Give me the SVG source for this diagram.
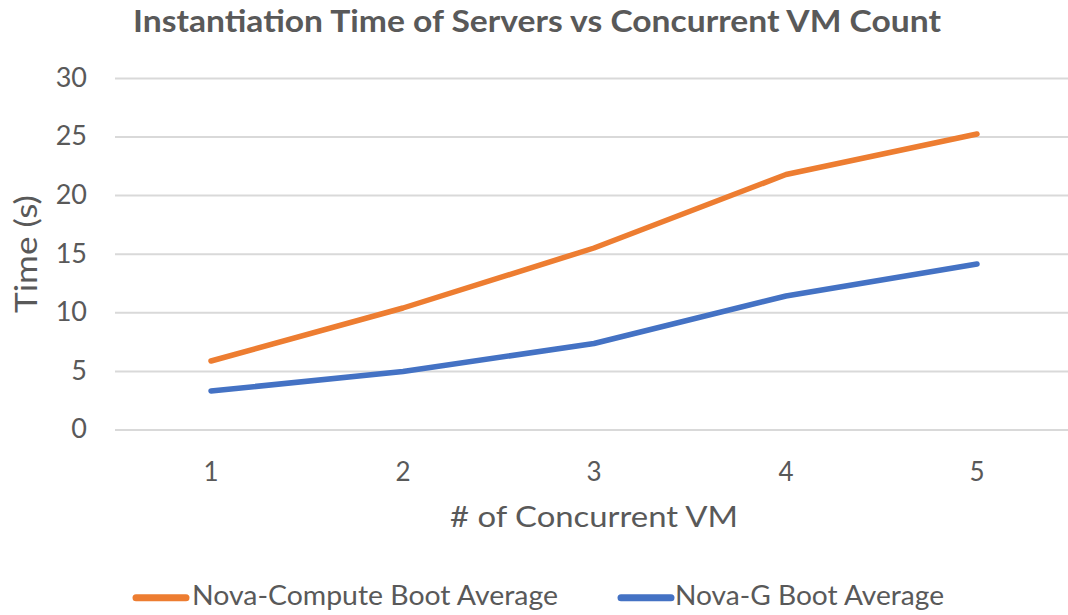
<svg xmlns="http://www.w3.org/2000/svg" width="1068" height="615" viewBox="0 0 1068 615">
<style>
.t{font-family:Lato,"Liberation Sans",sans-serif;fill:#595959}
.grid{stroke:#D9D9D9;stroke-width:2}
.ser{fill:none;stroke-width:5.5;stroke-linecap:round;stroke-linejoin:round}
</style>
<rect width="1068" height="615" fill="#FFFFFF"/>
<g id="title"><text class="t" x="133" y="32" font-size="30" font-weight="bold" textLength="808" lengthAdjust="spacingAndGlyphs">Instantiation Time of Servers vs Concurrent VM Count</text></g>
<g id="gridlines">
<line class="grid" x1="115" y1="78.4" x2="1068" y2="78.4"/>
<line class="grid" x1="115" y1="137" x2="1068" y2="137"/>
<line class="grid" x1="115" y1="195.6" x2="1068" y2="195.6"/>
<line class="grid" x1="115" y1="254.2" x2="1068" y2="254.2"/>
<line class="grid" x1="115" y1="312.8" x2="1068" y2="312.8"/>
<line class="grid" x1="115" y1="371.4" x2="1068" y2="371.4"/>
<line class="grid" x1="115" y1="430" x2="1068" y2="430"/>
</g>
<g id="y-axis" font-size="27" text-anchor="end">
<text class="t" x="87" y="86.7">30</text>
<text class="t" x="87" y="145.3">25</text>
<text class="t" x="87" y="203.9">20</text>
<text class="t" x="87" y="262.5">15</text>
<text class="t" x="87" y="321.1">10</text>
<text class="t" x="87" y="379.7">5</text>
<text class="t" x="87" y="438.3">0</text>
<text class="t" font-size="30" text-anchor="middle" textLength="118" lengthAdjust="spacingAndGlyphs" transform="translate(37,254) rotate(-90)">Time (s)</text>
</g>
<g id="x-axis" font-size="26" text-anchor="middle">
<text class="t" x="211" y="481">1</text>
<text class="t" x="403" y="481">2</text>
<text class="t" x="594" y="481">3</text>
<text class="t" x="786" y="481">4</text>
<text class="t" x="977" y="481">5</text>
<text class="t" x="450" y="527" font-size="29" text-anchor="start" textLength="288" lengthAdjust="spacingAndGlyphs"># of Concurrent VM</text>
</g>
<g id="series">
<polyline id="nova-compute" class="ser" stroke="#ED7D31" points="211,361 403,308 594,248 786,174.5 977,134"/>
<polyline id="nova-g" class="ser" stroke="#4472C4" points="211,391 403,371.5 594,343.5 786,296 977,264"/>
</g>
<g id="legend" font-size="26">
<line x1="136" y1="597.7" x2="186" y2="597.7" stroke="#ED7D31" stroke-width="7" stroke-linecap="round"/>
<text class="t" x="192" y="605" textLength="366" lengthAdjust="spacingAndGlyphs">Nova-Compute Boot Average</text>
<line x1="621" y1="597.7" x2="671" y2="597.7" stroke="#4472C4" stroke-width="7" stroke-linecap="round"/>
<text class="t" x="675" y="605" textLength="269" lengthAdjust="spacingAndGlyphs">Nova-G Boot Average</text>
</g>
</svg>
